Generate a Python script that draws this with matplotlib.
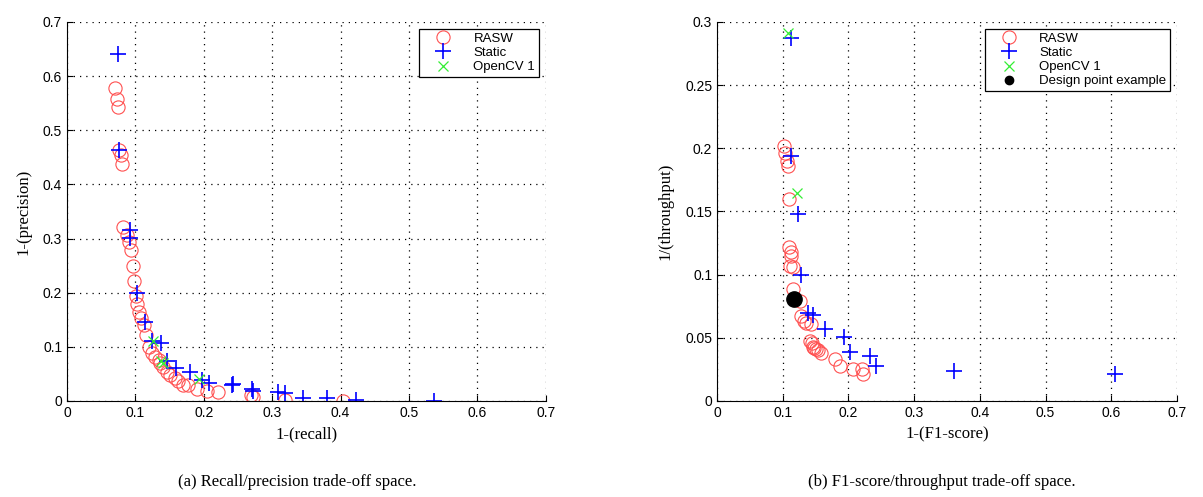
import matplotlib.pyplot as plt

# (a) recall / precision trade-off: x = 1-(recall), y = 1-(precision)
rasw_a_x = [0.070, 0.073, 0.075, 0.0765, 0.079, 0.081, 0.082, 0.087, 0.090, 0.094,
            0.096, 0.098, 0.101, 0.103, 0.105, 0.108, 0.112, 0.115, 0.120, 0.124,
            0.129, 0.134, 0.136, 0.141, 0.146, 0.151, 0.158, 0.163, 0.170, 0.177,
            0.190, 0.204, 0.221, 0.269, 0.272, 0.319, 0.404]
rasw_a_y = [0.578, 0.558, 0.543, 0.464, 0.455, 0.437, 0.322, 0.307, 0.293, 0.278,
            0.249, 0.221, 0.193, 0.179, 0.165, 0.153, 0.140, 0.122, 0.100, 0.088,
            0.082, 0.076, 0.070, 0.063, 0.054, 0.048, 0.042, 0.036, 0.030, 0.030,
            0.023, 0.019, 0.017, 0.011, 0.008, 0.002, 0.000]
static_a_x = [0.075, 0.0765, 0.092, 0.092, 0.102, 0.114, 0.124, 0.138, 0.146, 0.160,
              0.180, 0.197, 0.207, 0.241, 0.243, 0.271, 0.272, 0.309, 0.319, 0.345,
              0.380, 0.423, 0.536]
static_a_y = [0.640, 0.464, 0.316, 0.301, 0.199, 0.145, 0.111, 0.107, 0.073, 0.060,
              0.054, 0.039, 0.033, 0.030, 0.031, 0.022, 0.019, 0.017, 0.014, 0.005,
              0.005, 0.001, 0.000]
opencv_a_x = [0.125, 0.137, 0.140, 0.193]
opencv_a_y = [0.110, 0.074, 0.070, 0.040]

# (b) F1-score / throughput trade-off: x = 1-(F1-score), y = 1/(throughput)
rasw_b_x = [0.102, 0.103, 0.106, 0.108, 0.110, 0.110, 0.112, 0.113, 0.111, 0.115,
            0.116, 0.126, 0.128, 0.132, 0.136, 0.143, 0.141, 0.144, 0.146, 0.148,
            0.151, 0.154, 0.159, 0.179, 0.187, 0.207, 0.220, 0.222]
rasw_b_y = [0.202, 0.196, 0.190, 0.186, 0.160, 0.1216, 0.118, 0.115, 0.107, 0.106,
            0.089, 0.079, 0.067, 0.063, 0.062, 0.061, 0.0475, 0.046, 0.043, 0.042,
            0.041, 0.040, 0.038, 0.033, 0.028, 0.025, 0.025, 0.021]
static_b_x = [0.113, 0.112, 0.123, 0.128, 0.139, 0.146, 0.165, 0.193, 0.202, 0.233,
              0.242, 0.360, 0.606]
static_b_y = [0.287, 0.194, 0.148, 0.100, 0.070, 0.068, 0.057, 0.051, 0.039, 0.0356,
              0.028, 0.0237, 0.021]
opencv_b_x = [0.108, 0.122]
opencv_b_y = [0.291, 0.165]
design_x = [0.117]
design_y = [0.081]

captions = ["(a) Recall/precision trade-off space.",
            "(b) F1-score/throughput trade-off space."]

plt.rcParams['font.family'] = ['Liberation Sans', 'DejaVu Sans']
serif = ['Liberation Serif', 'DejaVu Serif']

fig = plt.figure(figsize=(12.03, 4.97), dpi=100)
ax1 = fig.add_axes([0.0557, 0.1932, 0.398, 0.7626])
ax2 = fig.add_axes([0.596, 0.1932, 0.3824, 0.7626])

circ = dict(linestyle='none', marker='o', ms=9.5, mfc='none', mec='#ff5050', mew=0.8)
plus = dict(linestyle='none', marker='+', ms=11, color='#0000ff', mew=1.2)
xmark = dict(linestyle='none', marker='x', ms=7, color='#33ee33', mew=0.9)

ax1.plot(rasw_a_x, rasw_a_y, label='RASW', **circ)
ax1.plot(static_a_x, static_a_y, label='Static', **plus)
ax1.plot(opencv_a_x, opencv_a_y, label='OpenCV 1', **xmark)

ax2.plot(rasw_b_x, rasw_b_y, label='RASW', **circ)
ax2.plot(static_b_x, static_b_y, label='Static', **plus)
ax2.plot(opencv_b_x, opencv_b_y, label='OpenCV 1', **xmark)
ax2.plot(design_x, design_y, linestyle='none', marker='o', ms=11, color='black',
         label='Design point example')

ticks = [0, 0.1, 0.2, 0.3, 0.4, 0.5, 0.6, 0.7]
tick_labels = ['0', '0.1', '0.2', '0.3', '0.4', '0.5', '0.6', '0.7']
b_yticks = [0, 0.05, 0.1, 0.15, 0.2, 0.25, 0.3]
b_ylabels = ['0', '0.05', '0.1', '0.15', '0.2', '0.25', '0.3']

ax1.set_xlim(0, 0.7)
ax1.set_ylim(0, 0.7)
ax1.set_xticks(ticks)
ax1.set_xticklabels(tick_labels)
ax1.set_yticks(ticks)
ax1.set_yticklabels(tick_labels)
ax1.set_xlabel('1-(recall)', family=serif, fontsize=12, labelpad=5)
ax1.set_ylabel('1-(precision)', family=serif, fontsize=12, labelpad=8)

ax2.set_xlim(0, 0.7)
ax2.set_ylim(0, 0.3)
ax2.set_xticks(ticks)
ax2.set_xticklabels(tick_labels)
ax2.set_yticks(b_yticks)
ax2.set_yticklabels(b_ylabels)
ax2.set_xlabel('1-(F1-score)', family=serif, fontsize=12, labelpad=5)
ax2.set_ylabel('1/(throughput)', family=serif, fontsize=12, labelpad=8)

for ax in (ax1, ax2):
    ax.grid(True, color='black', linestyle=(0, (1, 4)), linewidth=0.9)
    ax.spines['top'].set_visible(False)
    ax.spines['right'].set_visible(False)
    ax.tick_params(direction='in', length=4, labelsize=10)
    leg = ax.legend(loc='upper right', fontsize=9.5, fancybox=False, framealpha=1,
                    edgecolor='black', borderpad=0.3, labelspacing=0.15,
                    handletextpad=0.8, handlelength=3.0, borderaxespad=0.5)
    leg.get_frame().set_linewidth(0.9)

# smaller black dot in the legend, as in the original
ax2.get_legend().legend_handles[3].set_markersize(6)

fig.text(0.247, 0.03, captions[0], family=serif, fontsize=12, ha='center', va='center')
fig.text(0.783, 0.03, captions[1], family=serif, fontsize=12, ha='center', va='center')

fig.savefig('out.png', dpi=100)
